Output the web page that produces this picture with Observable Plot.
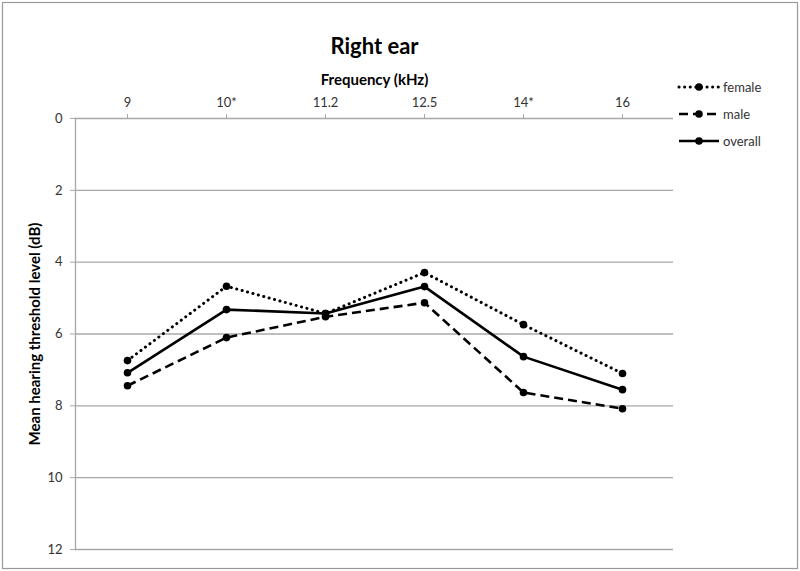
<!DOCTYPE html>
<html>
<head>
<meta charset="utf-8">
<script src="https://cdn.jsdelivr.net/npm/d3@7"></script>
<script src="https://cdn.jsdelivr.net/npm/@observablehq/plot@0.6"></script>
<style>
  body { margin: 0; background: #fff; }
  #chart svg { font-family: Lato, "Open Sans", sans-serif; }
  [aria-label="x-axis label"], [aria-label="y-axis label"] { font-weight: bold; font-size: 15px; fill: #000; }
</style>
</head>
<body>
<div id="chart"></div>
<script>
const frequencies = ["9", "10*", "11.2", "12.5", "14*", "16"];
const seriesNames = ["female", "male", "overall"];
const female  = [6.74, 4.67, 5.43, 4.29, 5.74, 7.10];
const male    = [7.44, 6.10, 5.52, 5.13, 7.63, 8.08];
const overall = [7.08, 5.32, 5.43, 4.68, 6.63, 7.55];
const yTicks = [0, 2, 4, 6, 8, 10, 12];
const titleText = "Right ear";
const xLabel = "Frequency (kHz)";
const yLabel = "Mean hearing threshold level (dB)";

const styles = {
  female:  {strokeDasharray: "0.1,5.5", strokeWidth: 3, strokeLinecap: "round"},
  male:    {strokeDasharray: "9,5", strokeWidth: 2.6, strokeLinecap: "butt"},
  overall: {strokeDasharray: null, strokeWidth: 2.6, strokeLinecap: "butt"}
};

const valuesBySeries = {female, male, overall};
const rows = seriesNames.flatMap(s => frequencies.map((f, i) => ({series: s, freq: f, value: valuesBySeries[s][i]})));

const gridColor = "#a8a8a8";

const lineMarks = seriesNames.map(s => Plot.line(rows.filter(d => d.series === s), {
  x: "freq", y: "value", stroke: "#000",
  strokeWidth: styles[s].strokeWidth,
  strokeDasharray: styles[s].strokeDasharray,
  strokeLinecap: styles[s].strokeLinecap,
  strokeLinejoin: "round"
}));

const chart = Plot.plot({
  width: 800,
  height: 571,
  marginTop: 118,
  marginLeft: 75,
  marginRight: 127,
  marginBottom: 22,
  style: {fontFamily: "Lato, 'Open Sans', sans-serif", fontSize: "13px", color: "#333"},
  x: {type: "point", domain: frequencies, padding: 0.5},
  y: {domain: [0, 12], reverse: true},
  marks: [
    Plot.gridY(yTicks, {stroke: gridColor, strokeOpacity: 1, strokeWidth: 1.3}),
    Plot.frame({anchor: "left", stroke: gridColor, strokeWidth: 1.3}),
    Plot.axisY(yTicks, {tickSize: 5, tickPadding: 8, stroke: gridColor, strokeOpacity: 1, label: yLabel, labelAnchor: "center", labelOffset: 46, labelArrow: "none", fill: "#333"}),
    Plot.axisX({anchor: "top", tickSize: 5, tickPadding: 7, stroke: gridColor, strokeOpacity: 1, label: xLabel, labelAnchor: "center", labelOffset: 44, labelArrow: "none", fill: "#333"}),
    ...lineMarks,
    Plot.dot(rows, {x: "freq", y: "value", r: 3.8, fill: "#000", stroke: null}),
    Plot.text([titleText], {frameAnchor: "top", dy: -80, text: d => d, fontSize: 22, fontWeight: "bold", fill: "#000"})
  ]
});

document.getElementById("chart").appendChild(chart);

// Outer border and legend
const svg = d3.select(chart);
svg.append("rect").attr("x", 2.5).attr("y", 2.5).attr("width", 795).attr("height", 566)
  .attr("fill", "none").attr("stroke", "#999").attr("stroke-width", 1.2);

const legendY = [87, 114, 141];
const lg = svg.append("g").attr("text-anchor", "start");
seriesNames.forEach((s, i) => {
  const g = lg.append("g").attr("transform", `translate(0,${legendY[i]})`);
  g.append("line").attr("x1", 679).attr("x2", 719).attr("y1", 0).attr("y2", 0)
    .attr("stroke", "#000").attr("stroke-width", styles[s].strokeWidth)
    .attr("stroke-dasharray", styles[s].strokeDasharray)
    .attr("stroke-linecap", styles[s].strokeLinecap);
  g.append("circle").attr("cx", 699).attr("cy", 0).attr("r", 3.8).attr("fill", "#000");
  g.append("text").attr("x", 723).attr("y", 0).attr("dy", "0.35em")
    .attr("text-anchor", "start")
    .attr("font-size", 13).attr("fill", "#333").text(s);
});
</script>
</body>
</html>
